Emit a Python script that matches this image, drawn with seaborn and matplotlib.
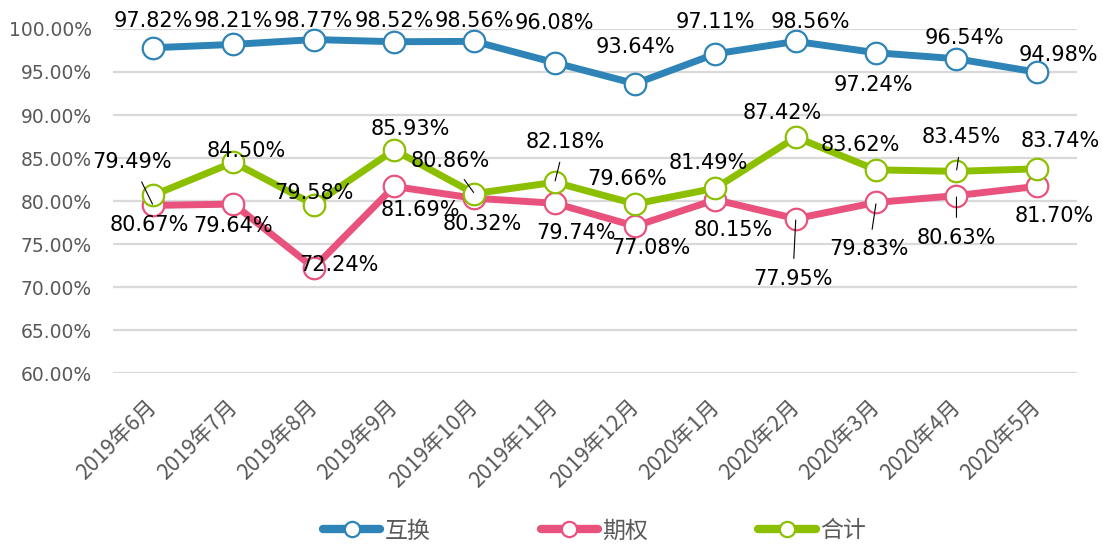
import pandas as pd
import seaborn as sns
import matplotlib.pyplot as plt
from matplotlib.lines import Line2D

# data
months = ['2019年6月', '2019年7月', '2019年8月', '2019年9月', '2019年10月', '2019年11月',
          '2019年12月', '2020年1月', '2020年2月', '2020年3月', '2020年4月', '2020年5月']
swap = [97.82, 98.21, 98.77, 98.52, 98.56, 96.08, 93.64, 97.11, 98.56, 97.24, 96.54, 94.98]
option = [79.49, 79.64, 72.24, 81.69, 80.32, 79.74, 77.08, 80.15, 77.95, 79.83, 80.63, 81.70]
total = [80.67, 84.50, 79.58, 85.93, 80.86, 82.18, 79.66, 81.49, 87.42, 83.62, 83.45, 83.74]
series_names = ['互换', '期权', '合计']

# label placement (pixel offsets from each point, +dy = down) and leader lines
swap_off = [(0, -27), (0, -23), (0, -19), (0, -21), (0, -20), (0, -40),
            (0, -37), (0, -32), (15, -19), (-3, 32), (8, -21), (22, -17)]
option_off = [(-21, -43), (0, 22), (25, -3), (26, 24), (8, 26), (21, 30),
              (16, 22), (18, 30), (-3, 60), (-7, 47), (0, 42), (17, 30)]
total_off = [(-4, 30), (13, -11), (0, -12), (16, -21), (-24, -33), (10, -40),
             (-8, -25), (-7, -25), (-14, -24), (-16, -25), (5, -34), (23, -28)]
option_leader = [0, 8, 9, 10]
total_leader = [4, 5, 10]

colors = ['#2E84B6', '#E8527D', '#8CBF00']

df = pd.DataFrame({'month': months * 3,
                   'value': swap + option + total,
                   'series': [s for s in series_names for _ in months]})

sns.set_style('white')
plt.rcParams['font.family'] = ['DejaVu Sans', 'Noto Sans CJK SC']

fig = plt.figure(figsize=(11.03, 5.44), dpi=100)
ax = fig.add_axes([0.1024, 0.3143, 0.874, 0.6324])

for name, col in zip(series_names, colors):
    sns.lineplot(data=df[df['series'] == name], x='month', y='value', ax=ax,
                 color=col, lw=5, marker='o', markersize=15.5,
                 markerfacecolor='white', markeredgecolor=col, markeredgewidth=1.6,
                 sort=False, clip_on=False, zorder=3)

ax.set_xlim(-0.5, len(months) - 0.5)
ax.set_ylim(60, 100)
ax.set_yticks(range(60, 101, 5))
ax.set_yticklabels([f'{v:.2f}%' for v in range(60, 101, 5)])
ax.yaxis.grid(True, color='#D9D9D9', lw=1.6)
ax.set_axisbelow(True)
for s in ax.spines.values():
    s.set_visible(False)
ax.set_xlabel('')
ax.set_ylabel('')
ax.tick_params(axis='y', length=0, pad=15, labelsize=13.5, labelcolor='#595959')
ax.tick_params(axis='x', length=0, pad=22, labelcolor='#595959')
for t in ax.get_xticklabels():
    t.set_rotation(45)
    t.set_ha('right')
    t.set_va('center')
    t.set_rotation_mode('anchor')
    t.set_fontfamily(['Noto Sans CJK SC'])
    t.set_fontsize(15.5)

k = 0.72  # px -> pt at 100 dpi
for vals, offs, leaders in [(swap, swap_off, []), (option, option_off, option_leader),
                            (total, total_off, total_leader)]:
    for i, (v, (dx, dy)) in enumerate(zip(vals, offs)):
        arrow = None
        if i in leaders:
            arrow = dict(arrowstyle='-', color='black', lw=0.8, shrinkA=5, shrinkB=1)
        ax.annotate(f'{v:.2f}%', xy=(i, v), xytext=(dx * k, -dy * k),
                    textcoords='offset points', ha='center', va='center',
                    fontsize=15, color='black', arrowprops=arrow, zorder=5)

handles = [Line2D([], [], color=c, lw=6, marker='o', markersize=11,
                  markerfacecolor='white', markeredgecolor=c, markeredgewidth=1.6)
           for c in colors]
fig.legend(handles, series_names, loc='center', bbox_to_anchor=(0.539, 0.024), ncol=3,
           frameon=False, handlelength=2.5, columnspacing=4.8, handletextpad=0.2,
           prop={'family': ['Noto Sans CJK SC'], 'size': 16.5}, labelcolor='#595959')

fig.savefig('out.png', dpi=100)
